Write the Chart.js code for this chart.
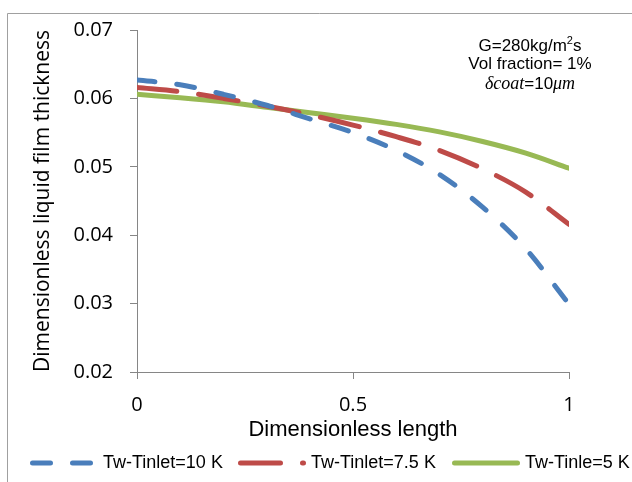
<!DOCTYPE html>
<html lang="en">
<head>
  <meta charset="UTF-8" />
  <title>Dimensionless liquid film thickness</title>
  <script src="https://cdn.jsdelivr.net/npm/chart.js"></script>
  <style>
    body { margin: 0; background: #fff; }
    canvas { display: block; }
  </style>
</head>
<body>
  <canvas id="filmChart" width="632" height="482"></canvas>

  <script>
    // data
    const xValues = [0, 0.1, 0.2, 0.3, 0.4, 0.5, 0.6, 0.7, 0.8, 0.9, 1];
    const dT10 = [0.0627, 0.0620, 0.0606, 0.0590, 0.0570, 0.0550, 0.0524, 0.0489, 0.0441, 0.0380, 0.0299];
    const dT75 = [0.0616, 0.0610, 0.0600, 0.0589, 0.0576, 0.0561, 0.0544, 0.0524, 0.0497, 0.0463, 0.0416];
    const dT5 = [0.0606, 0.0601, 0.0595, 0.0587, 0.0579, 0.0571, 0.0562, 0.0551, 0.0537, 0.0520, 0.0498];
    const seriesLabels = ['Tw-Tinlet=10 K', 'Tw-Tinlet=7.5 K', 'Tw-Tinle=5 K'];
    const yTicks = [0.02, 0.03, 0.04, 0.05, 0.06, 0.07];
    const xTicks = [0, 0.5, 1];

    const pts = vals => vals.map((v, i) => ({ x: xValues[i], y: v }));

    // frame, legend and note drawn straight on the canvas
    const extras = {
      id: 'extras',
      beforeDraw(chart) {
        const ctx = chart.ctx;
        ctx.save();
        ctx.fillStyle = '#fff';
        ctx.fillRect(0, 0, chart.width, chart.height);
        ctx.strokeStyle = '#a0a0a0';
        ctx.lineWidth = 1;
        ctx.beginPath();
        ctx.moveTo(7.5, chart.height);
        ctx.lineTo(7.5, 13.5);
        ctx.lineTo(chart.width, 13.5);
        ctx.stroke();
        ctx.restore();
      },
      afterDraw(chart) {
        const ctx = chart.ctx;
        ctx.save();

        // legend
        const starts = [32.5, 240.5, 454.5];
        const y = 463;
        chart.data.datasets.forEach((ds, i) => {
          const x0 = starts[i];
          ctx.strokeStyle = ds.borderColor;
          ctx.lineWidth = ds.borderWidth;
          ctx.lineCap = 'round';
          ctx.setLineDash(ds.borderDash || []);
          ctx.beginPath();
          ctx.moveTo(x0, y);
          ctx.lineTo(x0 + 63, y);
          ctx.stroke();
          ctx.setLineDash([]);
          ctx.fillStyle = '#000';
          ctx.font = '18px "Liberation Sans", Arial, sans-serif';
          ctx.textBaseline = 'middle';
          ctx.textAlign = 'left';
          ctx.fillText(ds.label, x0 + 70.5, y);
        });

        // note in the top right corner
        const cx = 530;
        const sans = '17px "Liberation Sans", Arial, sans-serif';
        const small = '11px "Liberation Sans", Arial, sans-serif';
        const ital = 'italic 18px "Liberation Serif", "DejaVu Serif", serif';
        ctx.fillStyle = '#000';
        ctx.textBaseline = 'alphabetic';
        ctx.textAlign = 'left';

        const line = (parts, baseY) => {
          let w = 0;
          parts.forEach(p => { ctx.font = p.f; w += ctx.measureText(p.t).width; });
          let x = cx - w / 2;
          parts.forEach(p => {
            ctx.font = p.f;
            ctx.fillText(p.t, x, baseY + (p.dy || 0));
            x += ctx.measureText(p.t).width;
          });
        };
        line([{ t: 'G=280kg/m', f: sans }, { t: '2', f: small, dy: -7 }, { t: 's', f: sans }], 51);
        line([{ t: 'Vol fraction= 1%', f: sans }], 69);
        line([{ t: 'δcoat', f: ital }, { t: '=10', f: sans }, { t: 'μm', f: ital }], 89);

        ctx.restore();
      }
    };

    new Chart(document.getElementById('filmChart'), {
      type: 'scatter',
      data: {
        datasets: [
          {
            label: seriesLabels[0],
            data: pts(dT10),
            borderColor: '#4A7EBB',
            borderWidth: 5,
            borderDash: [18, 22],
            borderCapStyle: 'round'
          },
          {
            label: seriesLabels[1],
            data: pts(dT75),
            borderColor: '#BE4B48',
            borderWidth: 5,
            borderDash: [40, 22],
            borderCapStyle: 'round'
          },
          {
            label: seriesLabels[2],
            data: pts(dT5),
            borderColor: '#98B954',
            borderWidth: 5,
            borderCapStyle: 'round'
          }
        ].map(ds => Object.assign(ds, { showLine: true, pointRadius: 0, cubicInterpolationMode: 'monotone', fill: false }))
      },
      options: {
        responsive: false,
        animation: false,
        devicePixelRatio: 1,
        layout: { padding: { left: 0, top: 30, right: 63, bottom: 39 } },
        plugins: { legend: { display: false }, tooltip: { enabled: false } },
        scales: {
          x: {
            type: 'linear',
            min: 0,
            max: 1,
            afterFit: s => { s.height = 71; },
            afterBuildTicks: s => { s.ticks = xTicks.map(v => ({ value: v })); },
            ticks: {
              padding: 14,
              color: '#000',
              font: { family: '"Open Sans", sans-serif', size: 20 },
              callback: v => String(v)
            },
            grid: { drawOnChartArea: false, tickLength: 7, color: '#868686' },
            border: { color: '#868686', width: 1 },
            title: {
              display: true,
              text: 'Dimensionless length',
              color: '#000',
              font: { family: '"Liberation Sans", Arial, sans-serif', size: 22 },
              padding: { top: 0, bottom: 0 }
            }
          },
          y: {
            min: 0.02,
            max: 0.07,
            afterFit: s => { s.width = 137; },
            afterBuildTicks: s => { s.ticks = yTicks.map(v => ({ value: v })); },
            ticks: {
              padding: 17,
              color: '#000',
              font: { family: '"Open Sans", sans-serif', size: 20 },
              callback: v => v.toFixed(2)
            },
            grid: { drawOnChartArea: false, tickLength: 7, color: '#868686' },
            border: { color: '#868686', width: 1 },
            title: {
              display: true,
              text: 'Dimensionless liquid film thickness',
              color: '#000',
              font: { family: '"Open Sans", sans-serif', size: 21 },
              padding: { top: 30, bottom: 0 }
            }
          }
        }
      },
      plugins: [extras]
    });
  </script>
</body>
</html>
